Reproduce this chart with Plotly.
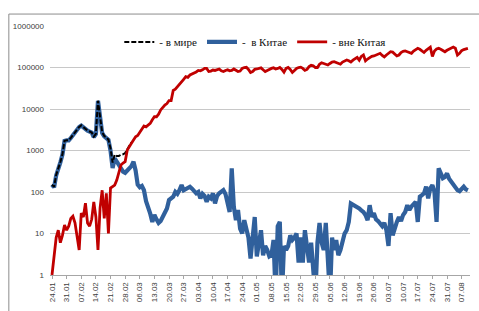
import pandas as pd
import plotly.graph_objects as go

start_date = "2020-01-24"

# daily new cases in China (day 0 = 24.01.2020)
china = [150, 130, 250, 340, 520, 800, 1700, 1750, 1750, 2000,
         2350, 2700, 3100, 3700, 4000, 3600, 3300, 3000, 2850, 2700,
         2100, 2500, 15800, 6500, 2640, 2200, 2000, 1800, 1000, 380,
         650, 540, 430, 340, 310, 290, 330, 390, 420, 540,
         330, 150, 130, 140, 110, 60, 44, 30, 19, 28,
         22, 18, 20, 25, 30, 40, 64, 70, 77, 101,
         90, 111, 147, 110, 120, 125, 134, 120, 105, 93,
         100, 70, 90, 80, 58, 77, 70, 93, 53, 80,
         93, 100, 111, 90, 53, 33, 370, 44, 21, 37,
         13, 10, 21, 12, 8, 2.5, 7, 25, 2.8, 7,
         12, 3, 5, 4, 2.8, 3, 7, 0, 15, 19,
         0, 5, 4, 5, 9, 7, 8, 10, 2, 8,
         2, 12, 4, 2, 6, 1, 0, 6, 18, 6,
         4, 18, 2, 0, 8, 4, 7, 3, 4, 7,
         10, 12, 19, 53, 50, 46, 44, 40, 36, 33,
         28, 21, 48, 25, 31, 22, 20, 17, 15, 18,
         12, 5, 31, 9, 14, 19, 25, 20, 28, 33,
         48, 37, 45, 53, 58, 19, 77, 84, 93, 134,
         70, 122, 147, 100, 19, 370, 257, 215, 230, 280,
         210, 178, 160, 134, 111, 105, 125, 134, 116, 110]

# daily new cases outside China
outside = [1, 3, 8, 12, 6, 9, 16, 12, 15, 23,
           26, 18, 8, 4, 31, 25, 54, 18, 15, 22,
           58, 25, 4, 41, 110, 23, 93, 10, 125, 134,
           147, 194, 310, 450, 500, 540, 1020, 1200, 1500, 1800,
           2150, 2300, 2800, 3300, 3900, 3700, 4200, 4500, 5500, 6500,
           6500, 7500, 9500, 11300, 12500, 13500, 16000, 16000, 28000, 30000,
           34000, 40000, 45000, 52000, 60000, 58000, 66000, 70000, 72000, 78000,
           85000, 83000, 88000, 95000, 95000, 80000, 82000, 87000, 85000, 90000,
           92000, 83000, 80000, 85000, 88000, 83000, 85000, 92000, 86000, 80000,
           82000, 95000, 100000, 101000, 90000, 76000, 80000, 90000, 92000, 95000,
           98000, 88000, 80000, 85000, 92000, 95000, 98000, 92000, 95000, 100000,
           90000, 77000, 95000, 100000, 90000, 76000, 85000, 95000, 100000, 102000,
           95000, 85000, 90000, 105000, 113000, 110000, 100000, 100000, 120000, 130000,
           125000, 118000, 115000, 125000, 135000, 138000, 132000, 125000, 120000, 135000,
           145000, 152000, 145000, 135000, 150000, 165000, 175000, 150000, 185000, 200000,
           145000, 160000, 175000, 185000, 190000, 200000, 210000, 220000, 195000, 180000,
           200000, 220000, 240000, 235000, 210000, 190000, 200000, 230000, 245000, 250000,
           240000, 225000, 220000, 250000, 270000, 290000, 275000, 250000, 230000, 260000,
           290000, 310000, 185000, 250000, 280000, 290000, 275000, 255000, 240000, 260000,
           280000, 290000, 310000, 290000, 200000, 220000, 255000, 270000, 280000, 290000]

# daily new cases in the world (drawn until early March)
world = [151, 133, 258, 352, 526, 809, 1716, 1762, 1765, 2023,
         2376, 2718, 3108, 3704, 4031, 3625, 3354, 3018, 2865, 2722,
         2158, 2525, 15804, 6541, 2750, 2223, 2093, 1810, 1125, 514,
         797, 734, 740, 790, 810, 870, 1100, 1300, 1550]

tick_labels = ["24.01", "31.01", "07.02", "14.02", "21.02", "28.02", "06.03",
               "13.03", "20.03", "27.03", "03.04", "10.04", "17.04", "24.04",
               "01.05", "08.05", "15.05", "22.05", "29.05", "05.06", "12.06",
               "19.06", "26.06", "03.07", "10.07", "17.07", "24.07", "31.07",
               "07.08"]
y_tick_values = [1, 10, 100, 1000, 10000, 100000, 1000000]
y_tick_labels = ["1", "10", "100", "1000", "10000", "100000", "1000000"]

names = ["- в мире", "-  в Китае", "- вне Китая"]

dates = pd.date_range(start_date, periods=len(china))
tick_dates = pd.date_range(start_date, periods=len(tick_labels), freq="7D")

def show(v):
    # zero days cannot sit on a log axis: push them below the visible range
    return [x if x > 0 else 0.3 for x in v]

fig = go.Figure()
fig.add_trace(go.Scatter(x=dates, y=show(china), mode="lines", name=names[1],
                         legendrank=2,
                         line=dict(color="#30609c", width=4.2)))
fig.add_trace(go.Scatter(x=dates[:len(world)], y=world, mode="lines", name=names[0],
                         legendrank=1,
                         line=dict(color="#000000", width=2, dash="5px,2px")))
fig.add_trace(go.Scatter(x=dates, y=show(outside), mode="lines", name=names[2],
                         legendrank=3,
                         line=dict(color="#c00000", width=2.8)))

x0 = dates[0] - pd.Timedelta(hours=23)
x1 = dates[0] + pd.Timedelta(days=200)

fig.update_layout(
    width=479, height=311,
    margin=dict(l=50, r=9, t=26, b=36),
    paper_bgcolor="white", plot_bgcolor="white",
    showlegend=True,
    legend=dict(orientation="h", x=0.165, y=0.936, xanchor="left", yanchor="middle",
                font=dict(family="Liberation Serif", size=11, color="#111111"),
                bgcolor="rgba(0,0,0,0)", itemwidth=30, tracegroupgap=0,
                entrywidth=0),
    xaxis=dict(type="date", range=[x0, x1], automargin=False,
               tickvals=tick_dates, ticktext=tick_labels, tickangle=-90,
               tickfont=dict(family="Liberation Sans", size=8, color="#404040"),
               showgrid=False, showline=True, linecolor="#a6a6a6", linewidth=1,
               ticks="outside", ticklen=3, tickcolor="#a6a6a6", zeroline=False),
    yaxis=dict(type="log", range=[0, 6], automargin=False,
               tickvals=y_tick_values, ticktext=y_tick_labels,
               tickfont=dict(family="Liberation Sans", size=8, color="#404040"),
               showgrid=True, gridcolor="#c8c8c8", gridwidth=1,
               showline=False, ticks="", ticklabelstandoff=5, zeroline=False),
    shapes=[dict(type="rect", xref="paper", yref="paper",
                 x0=-0.098, x1=1.1, y0=-0.2, y1=1.048,
                 line=dict(color="#8c8c8c", width=1), layer="above")],
)

fig.write_html("out.html", config={"displayModeBar": False},
               post_script="document.body.style.margin='0px';document.body.style.overflow='hidden';")
